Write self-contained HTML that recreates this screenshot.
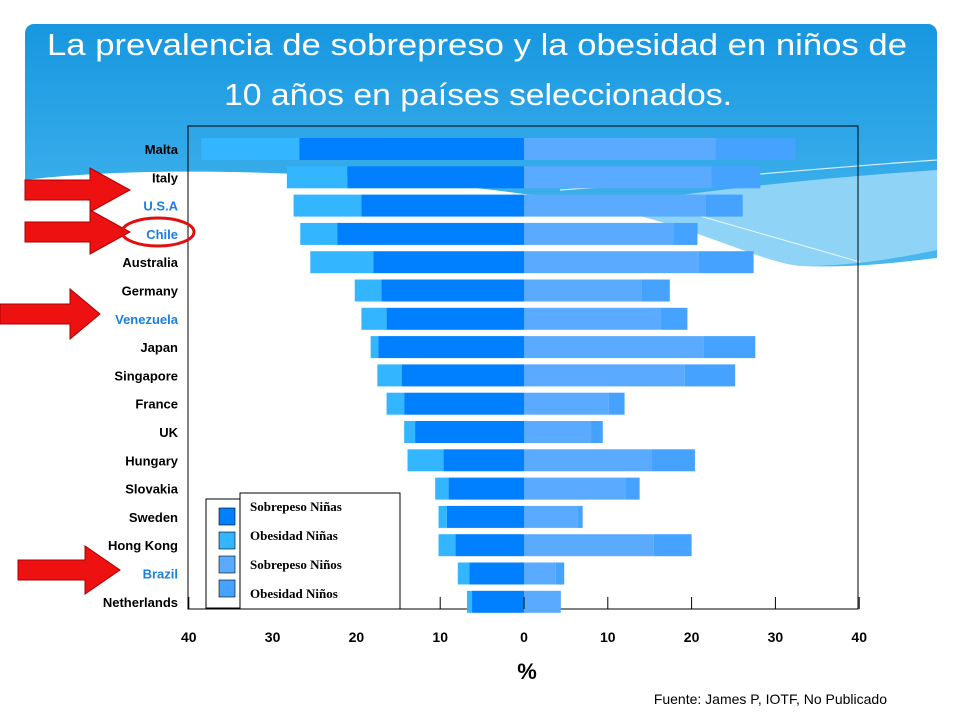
<!DOCTYPE html>
<html><head><meta charset="utf-8"><style>
body{margin:0;width:960px;height:720px;overflow:hidden;background:#fff;font-family:"Liberation Sans",sans-serif}
svg{display:block}
</style></head><body>
<svg id="s" width="960" height="720">
<defs><linearGradient id="g" x1="0" y1="0" x2="0" y2="1"><stop offset="0" stop-color="#1797e0"/><stop offset="1" stop-color="#4cb9ef"/></linearGradient></defs>
<g>
<rect x="25" y="24" width="912" height="250" rx="9" fill="url(#g)"/>
<path d="M580,210 C700,190 820,178 937,170 V250 C880,262 840,266 800,266 C720,258 650,235 580,210Z" fill="#8fd3f6"/>
<path d="M25,180 C150,164 400,170 600,206 C700,228 760,262 800,266 C860,268 900,262 937,258 V720 H25Z" fill="#fff"/>
<path d="M560,190 C700,180 820,168 937,160" stroke="#fff" stroke-width="1.2" fill="none" opacity="0.8"/>
<path d="M700,216 L860,262" stroke="#fff" stroke-width="1" fill="none" opacity="0.8"/>
</g>
<text x="477" y="55" text-anchor="middle" font-size="31" fill="#fff" textLength="860" lengthAdjust="spacingAndGlyphs">La prevalencia de sobrepreso y la obesidad en niños de</text>
<text x="478" y="105" text-anchor="middle" font-size="31" fill="#fff" textLength="508" lengthAdjust="spacingAndGlyphs">10 años en países seleccionados.</text>
<rect x="188" y="126" width="670" height="483" fill="none" stroke="#000" stroke-width="1"/>
<g id="bars"></g>
<g id="axis"></g>
<text x="527" y="679" text-anchor="middle" font-size="22" font-weight="bold" fill="#000">%</text>
<text x="887" y="704" text-anchor="end" font-size="14" fill="#000">Fuente: James P, IOTF,  No Publicado</text>
<g font-family="Liberation Serif,serif" font-size="13" font-weight="bold">
<rect x="206" y="499" width="40" height="109" fill="#fff" stroke="#000"/>
<rect x="240" y="493" width="160" height="116" fill="#fff" stroke="#000"/>
<rect x="219" y="508" width="16" height="17" fill="#0080ff" stroke="#000" stroke-width="0.6"/>
<rect x="219" y="532" width="16" height="17" fill="#33b5ff" stroke="#000" stroke-width="0.6"/>
<rect x="219" y="556" width="16" height="17" fill="#5aabff" stroke="#000" stroke-width="0.6"/>
<rect x="219" y="580" width="16" height="17" fill="#45a2ff" stroke="#000" stroke-width="0.6"/>
<text x="250" y="511">Sobrepeso Niñas</text>
<text x="250" y="540">Obesidad Niñas</text>
<text x="250" y="569">Sobrepeso Niños</text>
<text x="250" y="598">Obesidad Niños</text>
</g>
<g fill="#ee1111" stroke="#a00" stroke-width="1">
<path d="M25,180 H90 V168 L130,190 L90,212 V200 H25Z"/>
<path d="M25,222 H90 V210 L130,232 L90,254 V242 H25Z"/>
<path d="M0,304 H70 V289 L100,314 L70,339 V324 H0Z"/>
<path d="M18,560 H85 V546 L120,570 L85,594 V580 H18Z"/>
</g>
<ellipse cx="158" cy="232" rx="36" ry="14" fill="none" stroke="#e01010" stroke-width="3"/>
</svg>
<script>
const countries=["Malta","Italy","U.S.A","Chile","Australia","Germany","Venezuela","Japan","Singapore","France","UK","Hungary","Slovakia","Sweden","Hong Kong","Brazil","Netherlands"];
const girlsOverweight=[26.8,21.1,19.4,22.3,18.0,17.0,16.4,17.4,14.6,14.3,13.0,9.6,9.0,9.2,8.2,6.5,6.2];
const girlsObesity=[11.7,7.2,8.1,4.4,7.5,3.2,3.0,0.9,2.9,2.1,1.3,4.3,1.6,1.0,2.0,1.4,0.6];
const boysOverweight=[22.9,22.4,21.7,17.9,20.8,14.0,16.3,21.4,19.2,10.1,8.0,15.2,12.1,6.4,15.5,3.8,4.4];
const boysObesity=[9.5,5.8,4.4,2.8,6.6,3.4,3.2,6.2,6.0,1.9,1.4,5.2,1.7,0.6,4.5,1.0,0.0];
const tickValues=[-40,-30,-20,-10,0,10,20,30,40];
const tickLabels=["40","30","20","10","0","10","20","30","40"];
const NS="http://www.w3.org/2000/svg";
const cx=524,k=8.38,y0=149,pitch=28.3,bh=22;
const X=v=>cx+v*k;
const Y=i=>y0+i*pitch;
const bars=document.getElementById('bars'),axis=document.getElementById('axis');
function rect(g,x1,x2,y,c){const r=document.createElementNS(NS,'rect');r.setAttribute('x',Math.min(x1,x2));r.setAttribute('width',Math.abs(x2-x1));r.setAttribute('y',y-bh/2);r.setAttribute('height',bh);r.setAttribute('fill',c);g.appendChild(r);return r;}
countries.forEach((c,i)=>{
 const y=Y(i);
 let r=rect(bars,X(0),X(-girlsOverweight[i]),y,'#0080ff');
 
 
 r=rect(bars,X(-girlsOverweight[i]),X(-girlsOverweight[i]-girlsObesity[i]),y,'#33b5ff');
 
 
 r=rect(bars,X(0),X(boysOverweight[i]),y,'#5aabff');
 
 
 r=rect(bars,X(boysOverweight[i]),X(boysOverweight[i]+boysObesity[i]),y,'#45a2ff');
 
 
 const t=document.createElementNS(NS,'text');
 t.setAttribute('x',178);t.setAttribute('y',y+5);t.setAttribute('text-anchor','end');
 t.setAttribute('font-size','13');t.setAttribute('font-weight','bold');
 t.setAttribute('fill',(c==="U.S.A"||c==="Chile"||c==="Venezuela"||c==="Brazil")?'#1a7fe0':'#000');
 t.textContent=c;
 
 
 axis.appendChild(t);
});
tickValues.forEach((v,i)=>{
 const l=document.createElementNS(NS,'line');
 l.setAttribute('x1',X(v));l.setAttribute('x2',X(v));l.setAttribute('y1',597);l.setAttribute('y2',609);l.setAttribute('stroke','#000');
 
 
 axis.appendChild(l);
 const t=document.createElementNS(NS,'text');
 t.setAttribute('x',X(v));t.setAttribute('y',642);t.setAttribute('text-anchor','middle');
 t.setAttribute('font-size','14');t.setAttribute('font-weight','bold');
 t.textContent=tickLabels[i];
 
 
 axis.appendChild(t);
});
</script>
</body></html>
